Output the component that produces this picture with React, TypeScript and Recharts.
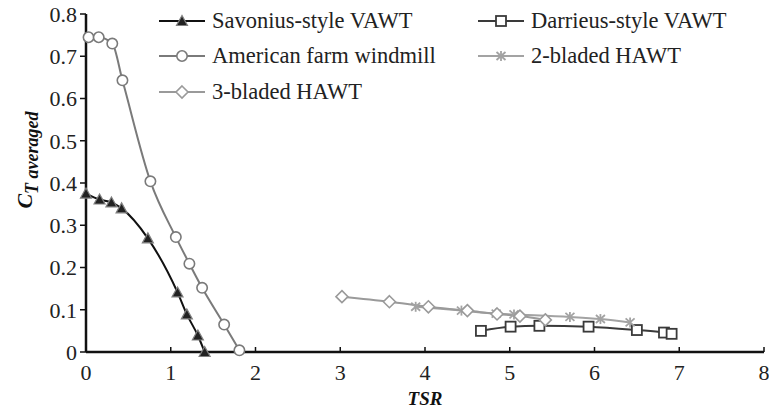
import React from 'react';
import {
  LineChart,
  Line,
  XAxis,
  YAxis,
} from 'recharts';

// TSR vs averaged torque coefficient
const savoniusTsr = [0, 0.16, 0.3, 0.42, 0.73, 1.08, 1.19, 1.32, 1.4];
const savoniusCt = [0.375, 0.361, 0.354, 0.34, 0.269, 0.141, 0.089, 0.039, 0];

const farmTsr = [0.03, 0.15, 0.31, 0.43, 0.76, 1.06, 1.22, 1.37, 1.63, 1.81];
const farmCt = [0.745, 0.745, 0.73, 0.643, 0.404, 0.272, 0.209, 0.152, 0.065, 0.004];

const darrieusTsr = [4.66, 5.01, 5.35, 5.93, 6.5, 6.82, 6.91];
const darrieusCt = [0.05, 0.06, 0.062, 0.06, 0.052, 0.046, 0.043];

const twoBladeTsr = [3.89, 4.43, 4.84, 5.05, 5.71, 6.07, 6.42];
const twoBladeCt = [0.107, 0.098, 0.091, 0.089, 0.083, 0.078, 0.07];

const threeBladeTsr = [3.02, 3.58, 4.04, 4.5, 4.85, 5.12, 5.42];
const threeBladeCt = [0.131, 0.119, 0.107, 0.098, 0.09, 0.085, 0.076];

const xTicks = [0, 1, 2, 3, 4, 5, 6, 7, 8];
const yTicks = [0, 0.1, 0.2, 0.3, 0.4, 0.5, 0.6, 0.7, 0.8];

const FONT = 'Liberation Serif, DejaVu Serif, serif';

const toPoints = (xs: number[], ys: number[]) => xs.map((x, i) => ({ tsr: x, ct: ys[i] }));

type MarkerKind = 'triangle' | 'circle' | 'square' | 'star' | 'diamond';

function Marker({ kind, cx, cy, color }: { kind: MarkerKind; cx: number; cy: number; color: string }) {
  if (cx == null || cy == null) return null;
  switch (kind) {
    case 'triangle':
      return (
        <polygon
          points={`${cx},${cy - 5.5} ${cx - 5.5},${cy + 4.5} ${cx + 5.5},${cy + 4.5}`}
          fill="#222"
          stroke="#808080"
          strokeWidth={1.2}
        />
      );
    case 'circle':
      return <circle cx={cx} cy={cy} r={5.2} fill="#fff" stroke={color} strokeWidth={1.6} />;
    case 'square':
      return (
        <rect x={cx - 5} y={cy - 5} width={10} height={10} fill="#fff" stroke={color} strokeWidth={1.8} />
      );
    case 'star':
      return (
        <g stroke={color} strokeWidth={1.8}>
          <line x1={cx} y1={cy - 5} x2={cx} y2={cy + 5} />
          <line x1={cx - 4.5} y1={cy - 4} x2={cx + 4.5} y2={cy + 4} />
          <line x1={cx - 4.5} y1={cy + 4} x2={cx + 4.5} y2={cy - 4} />
        </g>
      );
    case 'diamond':
      return (
        <polygon
          points={`${cx},${cy - 6} ${cx + 6},${cy} ${cx},${cy + 6} ${cx - 6},${cy}`}
          fill="#fff"
          stroke={color}
          strokeWidth={1.6}
        />
      );
  }
  return null;
}

const seriesList = [
  { name: 'Savonius-style VAWT', tsr: savoniusTsr, ct: savoniusCt, color: '#111', kind: 'triangle' as MarkerKind, col: 0, row: 0 },
  { name: 'American farm windmill', tsr: farmTsr, ct: farmCt, color: '#7a7a7a', kind: 'circle' as MarkerKind, col: 0, row: 1 },
  { name: 'Darrieus-style VAWT', tsr: darrieusTsr, ct: darrieusCt, color: '#3a3a3a', kind: 'square' as MarkerKind, col: 1, row: 0 },
  { name: '2-bladed HAWT', tsr: twoBladeTsr, ct: twoBladeCt, color: '#a3a3a3', kind: 'star' as MarkerKind, col: 1, row: 1 },
  { name: '3-bladed HAWT', tsr: threeBladeTsr, ct: threeBladeCt, color: '#9a9a9a', kind: 'diamond' as MarkerKind, col: 0, row: 2 },
];

const legendCols = [159, 478];
const legendRows = [21, 56, 92];

function LegendBox() {
  return (
    <svg
      width={769}
      height={110}
      style={{ position: 'absolute', left: 0, top: 0, pointerEvents: 'none' }}
    >
      {seriesList.map((s) => {
        const x = legendCols[s.col];
        const y = legendRows[s.row];
        return (
          <g key={s.name}>
            <line x1={x} y1={y} x2={x + 46} y2={y} stroke={s.color} strokeWidth={2} />
            <Marker kind={s.kind} cx={x + 23} cy={y} color={s.color} />
            <text x={x + 53} y={y + 7} style={{ fontFamily: FONT, fontSize: 22.5 }} fill="#222">
              {s.name}
            </text>
          </g>
        );
      })}
    </svg>
  );
}

const YTitle = () => (
  <text
    transform="translate(32, 160) rotate(-90)"
    textAnchor="middle"
    style={{ fontFamily: FONT, fontWeight: 'bold', fontStyle: 'italic' }}
    fill="#111"
  >
    <tspan fontSize={22}>C</tspan>
    <tspan fontSize={18} dy={6}>T averaged</tspan>
  </text>
);

// x ticks point inward (up into the plot), labels below
const XTick = (props: any) => {
  const { x, y, payload } = props;
  const axisY = y - 12;
  return (
    <g>
      <line x1={x} y1={axisY} x2={x} y2={axisY - 5} stroke="#111" strokeWidth={1.5} />
      <text
        x={x}
        y={y}
        dy="0.72em"
        textAnchor="middle"
        style={{ fontFamily: FONT, fontSize: 22 }}
        fill="#222"
      >
        {payload.value}
      </text>
    </g>
  );
};

export default function App() {
  return (
    <div style={{ position: 'absolute', left: 0, top: 0, width: 769, height: 415, background: '#fff' }}>
      <LineChart
        width={769}
        height={415}
        margin={{ top: 14, right: 5, bottom: 33, left: 0 }}
      >
        <XAxis
          type="number"
          dataKey="tsr"
          domain={[0, 8]}
          ticks={xTicks}
          interval={0}
          height={30}
          allowDuplicatedCategory={false}
          axisLine={{ stroke: '#111', strokeWidth: 2.5 }}
          tickLine={false}
          tickSize={0}
          tickMargin={12}
          tick={<XTick />}
          label={{
            value: 'TSR',
            position: 'insideBottom',
            offset: -23,
            fontFamily: FONT,
            fontSize: 19,
            fontWeight: 'bold',
            fontStyle: 'italic',
            fill: '#111',
          }}
        />
        <YAxis
          type="number"
          dataKey="ct"
          domain={[0, 0.8]}
          ticks={yTicks}
          interval={0}
          width={86}
          axisLine={{ stroke: '#111', strokeWidth: 2.5 }}
          tickLine={{ stroke: '#111', strokeWidth: 1.5 }}
          tickSize={6}
          tickMargin={3}
          tickFormatter={(v: number) => (v === 0 ? '0' : v.toFixed(1))}
          tick={{ fontFamily: FONT, fontSize: 22, fill: '#222' }}
          label={{ content: () => <YTitle /> }}
        />
        {seriesList.map((s) => (
          <Line
            key={s.name}
            name={s.name}
            data={toPoints(s.tsr, s.ct)}
            dataKey="ct"
            type="monotone"
            stroke={s.color}
            strokeWidth={2}
            dot={(p: any) => <Marker key={`${s.name}-${p.index}`} kind={s.kind} cx={p.cx} cy={p.cy} color={s.color} />}
            activeDot={false}
            isAnimationActive={false}
          />
        ))}
      </LineChart>
      <LegendBox />
    </div>
  );
}
